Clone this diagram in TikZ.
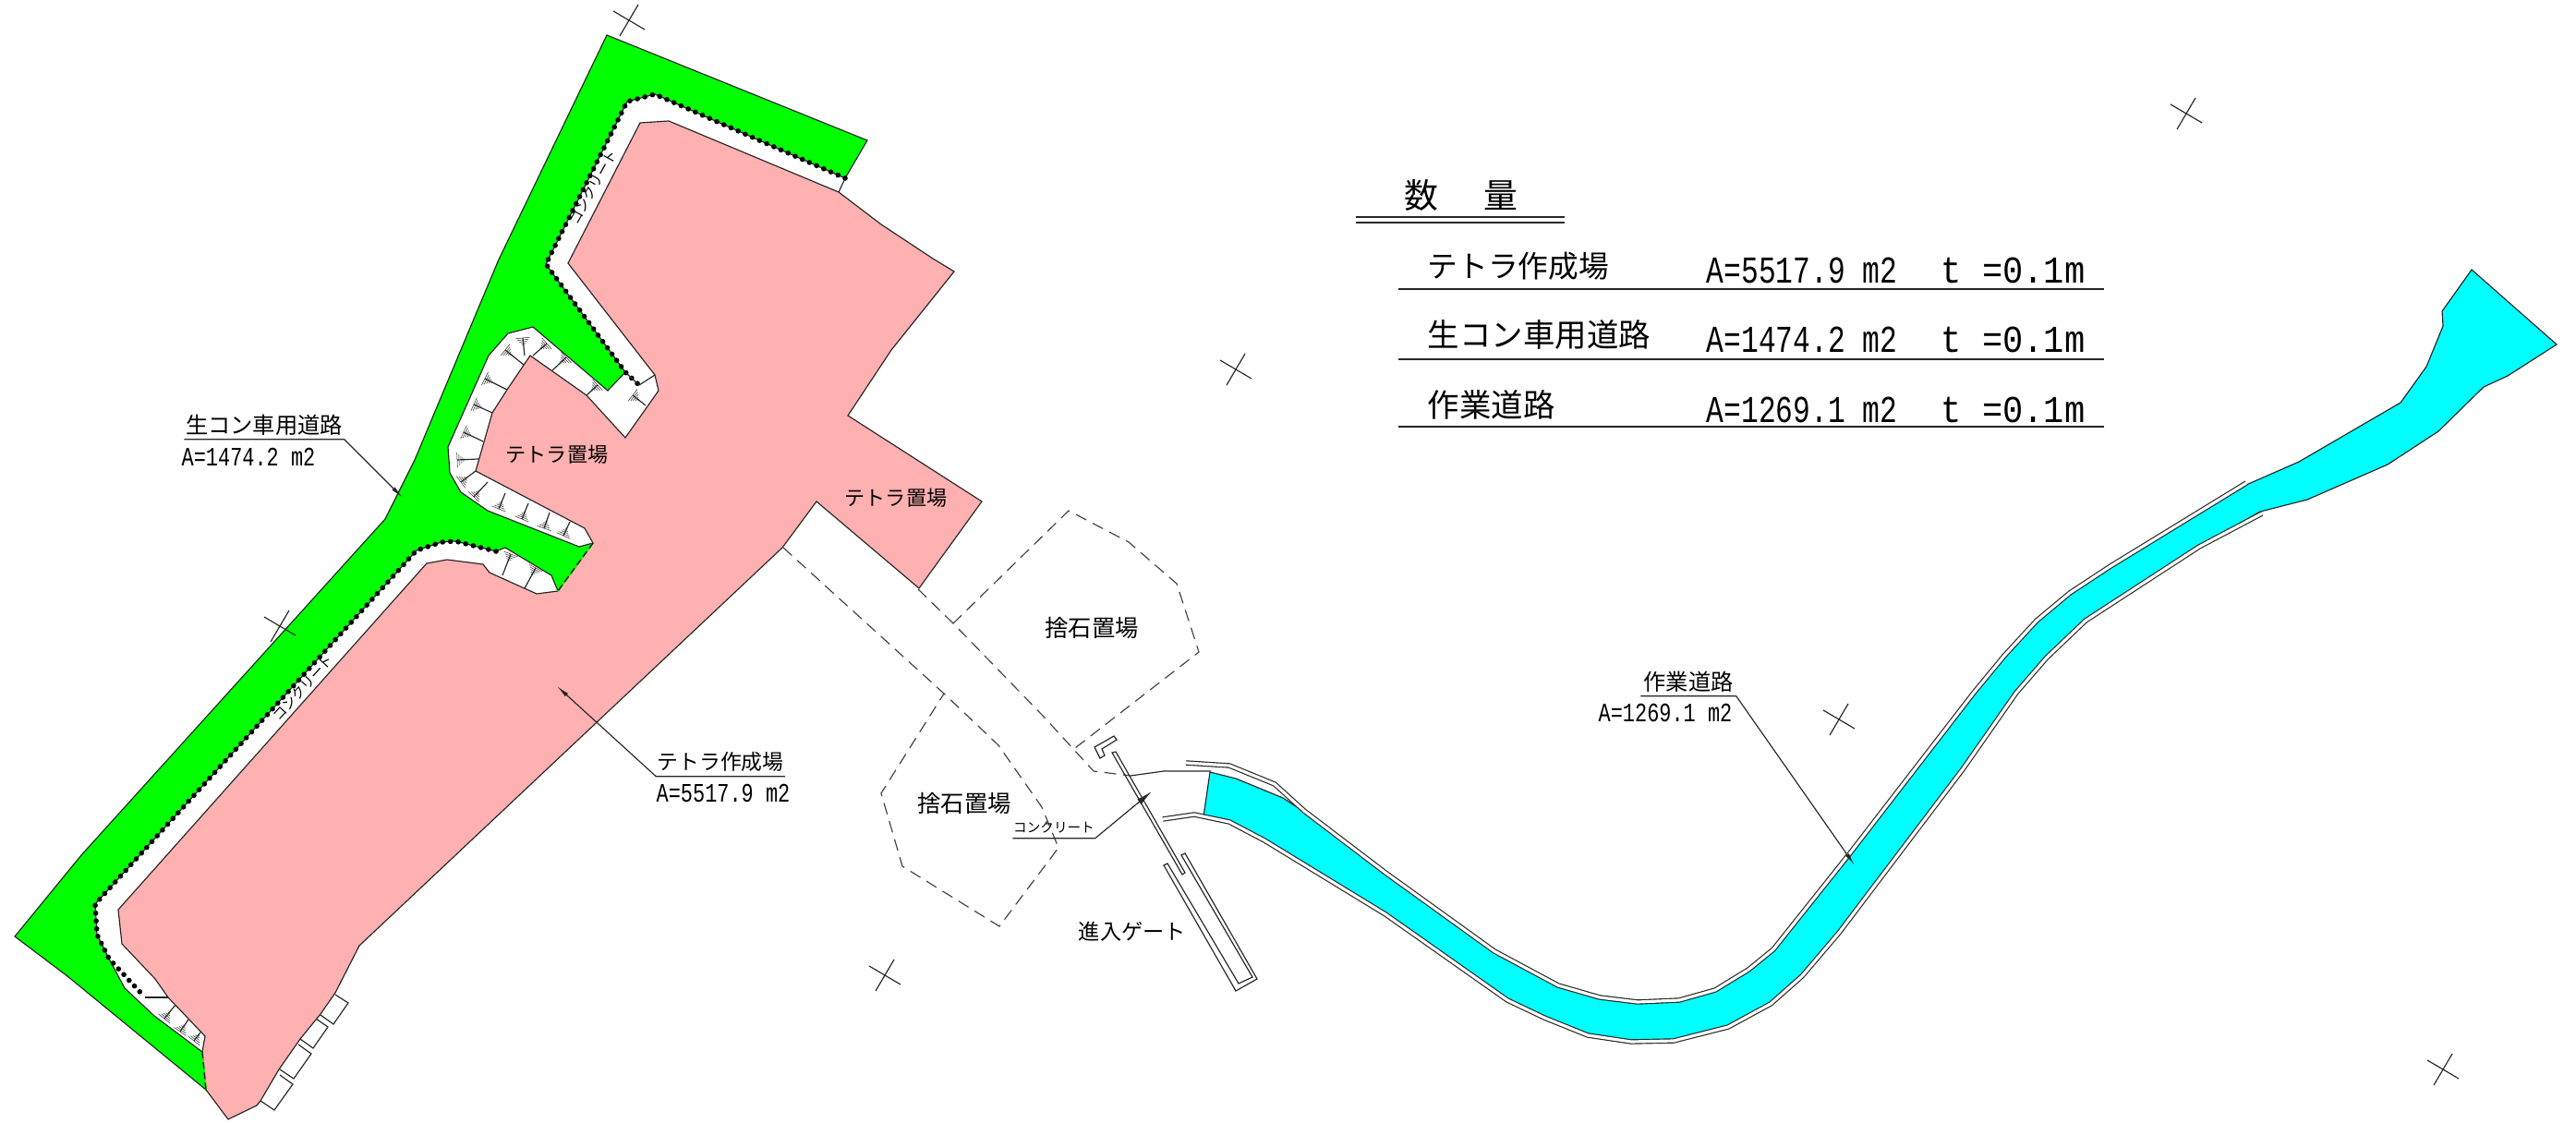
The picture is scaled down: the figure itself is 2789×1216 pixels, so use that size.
\documentclass[tikz,border=0pt]{standalone}
\usepackage{fontspec}
\usetikzlibrary{arrows.meta, calc}
\newfontfamily\jpfont{Noto Sans CJK JP}
\newfontfamily\cadnum[FakeStretch=0.76]{Liberation Mono}
\newfontfamily\cadwide[FakeStretch=0.9]{Liberation Mono}
\definecolor{padpink}{RGB}{255,176,176}
\definecolor{roadgreen}{RGB}{0,255,0}
\definecolor{roadcyan}{RGB}{0,255,255}
\tikzset{
  hair/.style={line width=0.33pt, black!85},
  tick/.style={line width=0.14pt, black!85},
  dashline/.style={line width=0.33pt, black!75, dash pattern=on 3.6pt off 2.2pt},
  dotline/.style={line width=1.6pt, black, line cap=round, dash pattern=on 0pt off 2.4pt},
  twinline/.style={line width=0.33pt, black!85, double=white, double distance=0.9pt},
  leader/.style={hair, -{Latex[length=4pt,width=1.3pt]}},
  rowjp/.style={font=\jpfont\fontsize{9.8}{12}\selectfont, inner sep=0pt, anchor=base west},
  rowarea/.style={font=\cadnum\fontsize{11.7}{14}\selectfont, inner sep=0pt, anchor=base west},
  rowthick/.style={font=\cadwide\fontsize{11.7}{14}\selectfont, inner sep=0pt, anchor=base west},
  yardjp/.style={font=\jpfont\fontsize{6.3}{8}\selectfont, inner sep=0pt},
  namejp/.style={font=\jpfont\fontsize{6.9}{8}\selectfont, inner sep=0pt},
  tinyjp/.style={font=\jpfont\fontsize{4.2}{5}\selectfont, inner sep=0pt},
  areanum/.style={font=\cadnum\fontsize{8.2}{10}\selectfont, inner sep=0pt}
}
% one slope cell: line from the pad edge to the road edge, fan of ticks at the road edge
\newcommand{\slopecell}[2]{
  \draw[hair] (#1) -- (#2);
  \foreach \s/\w in {0/0.8,0.2/0.6,0.4/0.42,0.6/0.26,0.8/0.12}
    \draw[tick] ($(#2)!\s mm!(#1)!\w mm!90:(#1)$) -- ($(#2)!\s mm!(#1)!\w mm!-90:(#1)$);
}

\begin{document}
\begin{tikzpicture}[x=0.01cm,y=-0.01cm]
\useasboundingbox (0,0) rectangle (2789,1216);

% blocks below the pad
\draw[hair] (363,1077) -- (377,1086) -- (361,1109) -- (347,1099);
\draw[hair] (342,1103) -- (355,1112) -- (339,1135) -- (325,1125);
\draw[hair] (323,1131) -- (337,1141) -- (318,1168) -- (303,1158);
\draw[hair] (303,1164) -- (317,1174) -- (297,1202) -- (282,1192);

% green road
\filldraw[hair, fill=roadgreen] (657,38) -- (540,281) -- (449,498) -- (417,562) -- (88,926)
  -- (16,1014) -- (73,1057) -- (223,1180) -- (219,1139) -- (167,1100) -- (135,1070)
  -- (118,1038) -- (105,1012) -- (103,979) -- (451,596) -- (478,587) -- (493,586)
  -- (537,597) -- (547,593) -- (597,623) -- (604,640) -- (642,588) -- (627,592)
  -- (528,553) -- (499,533) -- (487,512) -- (485,484) -- (529,385) -- (550,361)
  -- (577,354) -- (658,423) -- (677,403) -- (591,286) -- (679,110) -- (709,102)
  -- (915,193) -- (939,152) -- cycle;

% pink pad
\filldraw[hair, fill=padpink] (693,133) -- (724,131) -- (908,208) -- (954,243) -- (1010,280)
  -- (1033,294) -- (965,379) -- (918,450) -- (1063,543) -- (995,637) -- (884,543)
  -- (847,593) -- (389,1024) -- (363,1075) -- (347,1098) -- (325,1125) -- (302,1158)
  -- (282,1192) -- (278,1197) -- (247,1212) -- (223,1180) -- (219,1139) -- (222,1122)
  -- (182,1080) -- (168,1060) -- (132,1022) -- (128,985) -- (462,610) -- (484,606)
  -- (523,611) -- (530,620) -- (581,643) -- (604,640) -- (642,588) -- (633,572)
  -- (515,510) -- (533,447) -- (549,422) -- (574,385) -- (635,428) -- (677,474)
  -- (713,423) -- (709,406) -- (615,285) -- cycle;

% dashed joints between road and pad
\draw[roadgreen, line width=0.5pt] (642,588) -- (604,640);
\draw[dashline, black, dash pattern=on 2pt off 1.2pt] (642,588) -- (604,640);
\draw[roadgreen, line width=0.5pt] (219,1139) -- (223,1180);
\draw[dashline, black, dash pattern=on 2pt off 1.2pt] (219,1139) -- (223,1180);

% concrete kerb with dots
\draw[dotline] (915,193) -- (709,102) -- (679,110) -- (591,286) -- (677,403) -- (692,417);
\draw[dotline] (537,597) -- (493,586) -- (478,587) -- (451,596) -- (103,979) -- (105,1012) -- (118,1038) -- (157,1080);
\draw[hair] (915,193) -- (908,208);
\draw[hair] (692,417) -- (709,406);
\draw[hair] (677,403) -- (692,417);
\draw[hair] (157,1080) -- (182,1080);

% slope cells
\slopecell{635,428}{647,417}
\slopecell{598,401}{613,387}
\slopecell{577,385}{592,372}
\slopecell{568,385}{566,366}
\slopecell{567,395}{547,379}
\slopecell{549,422}{525,410}
\slopecell{533,447}{513,438}
\slopecell{523,478}{502,468}
\slopecell{518,497}{495,498}
\slopecell{515,510}{499,522}
\slopecell{528,522}{513,538}
\slopecell{547,534}{540,551}
\slopecell{572,545}{565,562}
\slopecell{595,555}{589,572}
\slopecell{617,565}{610,580}
\slopecell{544,623}{553,600}
\slopecell{568,637}{580,615}
\slopecell{699,439}{685,428}
\slopecell{190,1088}{178,1103}
\slopecell{204,1104}{195,1117}
\slopecell{217,1118}{210,1127}

% stock yards and yard road
\draw[dashline] (848,593) -- (1022,751) -- (1081,807) -- (1128,874) -- (1146,918) -- (1082,1003)
  -- (977,938) -- (954,859) -- (1022,751);
\draw[dashline] (994,638) -- (1032,675) -- (1130,776) -- (1184,835) -- (1224,840);
\draw[dashline] (1032,675) -- (1157,553) -- (1222,587) -- (1274,632) -- (1298,706) -- (1164,810);
\draw[hair] (1224,840) -- (1260,835) -- (1311,835);

% gate
\draw[hair] (1185,809) -- (1206,797) -- (1209,801) -- (1193,811) -- (1196,818) -- (1191,821) -- cycle;
\draw[hair] (1204,815) -- (1208,814) -- (1283,945) -- (1280,947) -- cycle;
\draw[hair] (1279,926) -- (1283,924) -- (1361,1060) -- (1338,1073) -- (1260,937) -- (1264,935)
  -- (1341,1065) -- (1356,1058) -- cycle;

% cyan road
\filldraw[hair, fill=roadcyan] (1310,836) -- (1338,843) -- (1389,864) -- (1412,879) -- (1500,947)
  -- (1618,1030) -- (1687,1067) -- (1732,1080) -- (1773,1085) -- (1818,1083) -- (1857,1072)
  -- (1893,1050) -- (1920,1028) -- (2002,925) -- (2137,750) -- (2170,710) -- (2205,672)
  -- (2241,642) -- (2285,613) -- (2432,525) -- (2489,500) -- (2599,436) -- (2627,397)
  -- (2645,353) -- (2644,337) -- (2676,292) -- (2768,373) -- (2715,407) -- (2689,419)
  -- (2640,467) -- (2585,503) -- (2498,541) -- (2447,554) -- (2381,592) -- (2258,672)
  -- (2216,712) -- (2183,750) -- (2125,833) -- (1991,1010) -- (1951,1057) -- (1917,1087)
  -- (1871,1112) -- (1812,1127) -- (1766,1128) -- (1719,1121) -- (1672,1102) -- (1632,1083)
  -- (1500,990) -- (1369,910) -- (1331,890) -- (1303,884) -- cycle;
\draw[twinline] (1284,826) -- (1331,829) -- (1380,849) -- (1412,878) -- (1500,945) -- (1618,1030)
  -- (1687,1067) -- (1732,1080) -- (1773,1085) -- (1818,1083) -- (1857,1072) -- (1893,1050)
  -- (1920,1028) -- (2002,925) -- (2137,750) -- (2170,710) -- (2205,672) -- (2241,642)
  -- (2285,613) -- (2432,523);
\draw[twinline] (1259,887) -- (1293,882) -- (1331,890) -- (1369,910) -- (1500,990) -- (1632,1083)
  -- (1672,1102) -- (1719,1121) -- (1766,1128) -- (1812,1127) -- (1871,1112) -- (1917,1087)
  -- (1951,1057) -- (1991,1010) -- (2125,833) -- (2183,750) -- (2216,712) -- (2258,672)
  -- (2381,592) -- (2449,556);

% survey crosses
\foreach \x/\y in {681/22,2367/123,1338/400,303/678,1991/779,958/1056,2645/1158}{
  \draw[hair] (\x-17,\y-10) -- (\x+17,\y+10);
  \draw[hair] (\x+10,\y-17) -- (\x-10,\y+17);
}

% yard labels
\node[yardjp] (yardA) at (603,492) {テトラ置場};
\node[yardjp] (yardB) at (970,539) {テトラ置場};
\node[yardjp, font=\jpfont\fontsize{7.2}{9}\selectfont] (stoneA) at (1182,680) {捨石置場};
\node[yardjp, font=\jpfont\fontsize{7.2}{9}\selectfont] (stoneB) at (1044,870) {捨石置場};
\node[yardjp, font=\jpfont\fontsize{6.6}{8}\selectfont] (gateName) at (1226,1009) {進入ゲート};
\node[tinyjp, rotate=61] (kerbA) at (642,203) {コンクリート};
\node[tinyjp, rotate=48] (kerbB) at (328,745) {コンクリート};

% leaders
\coordinate (greenTip) at (436,539);
\coordinate (pinkTip) at (603,743);
\coordinate (gateTip) at (1247,857);
\coordinate (cyanTip) at (2008,937);

\node[namejp, minimum width=1.72cm, minimum height=0.3cm] (greenName) at (286,460) {生コン車用道路};
\node[areanum] (greenArea) at (269,495) {A=1474.2 m2};
\draw[leader] (greenName.south west) -- (greenName.south east) -- (greenTip);

\node[namejp, font=\jpfont\fontsize{6.5}{8}\selectfont, minimum width=1.38cm, minimum height=0.3cm] (pinkName) at (780,825) {テトラ作成場};
\node[areanum] (pinkArea) at (783,859) {A=5517.9 m2};
\draw[leader] (pinkName.south east) -- (pinkName.south west) -- (pinkTip);

\node[tinyjp, font=\jpfont\fontsize{4.15}{5}\selectfont, minimum width=0.88cm, minimum height=0.22cm] (gateKerb) at (1141,896) {コンクリート};
\draw[leader, -{Latex[length=5pt,width=2pt]}] (gateKerb.south west) -- (gateKerb.south east) -- (gateTip);

\node[namejp, minimum width=1.02cm, minimum height=0.3cm] (cyanName) at (1828,738) {作業道路};
\node[areanum] (cyanArea) at (1803,772) {A=1269.1 m2};
\draw[leader] (cyanName.south west) -- (cyanName.south east) -- (cyanTip);

% quantity table
\node[rowjp, font=\jpfont\fontsize{10.5}{13}\selectfont] (tableHead) at (1520,226) {数\hspace{1.32em}量};
\draw[hair] (1468,235) -- (1694,235);
\draw[hair] (1468,241) -- (1694,241);

\node[rowjp, font=\jpfont\fontsize{9.3}{12}\selectfont] (rowPink) at (1545,301) {テトラ作成場};
\node[rowarea] (areaPink) at (1847,307) {A=5517.9 m2};
\node[rowthick] (thickPink) at (2101,307) {t =0.1m};
\draw[hair] (1514,313) -- (2278,313);

\node[rowjp] (rowGreen) at (1545,376) {生コン車用道路};
\node[rowarea] (areaGreen) at (1847,382) {A=1474.2 m2};
\node[rowthick] (thickGreen) at (2101,382) {t =0.1m};
\draw[hair] (1514,389) -- (2278,389);

\node[rowjp] (rowCyan) at (1545,452) {作業道路};
\node[rowarea] (areaCyan) at (1847,458) {A=1269.1 m2};
\node[rowthick] (thickCyan) at (2101,458) {t =0.1m};
\draw[hair] (1514,462) -- (2278,462);
\end{tikzpicture}
\end{document}
